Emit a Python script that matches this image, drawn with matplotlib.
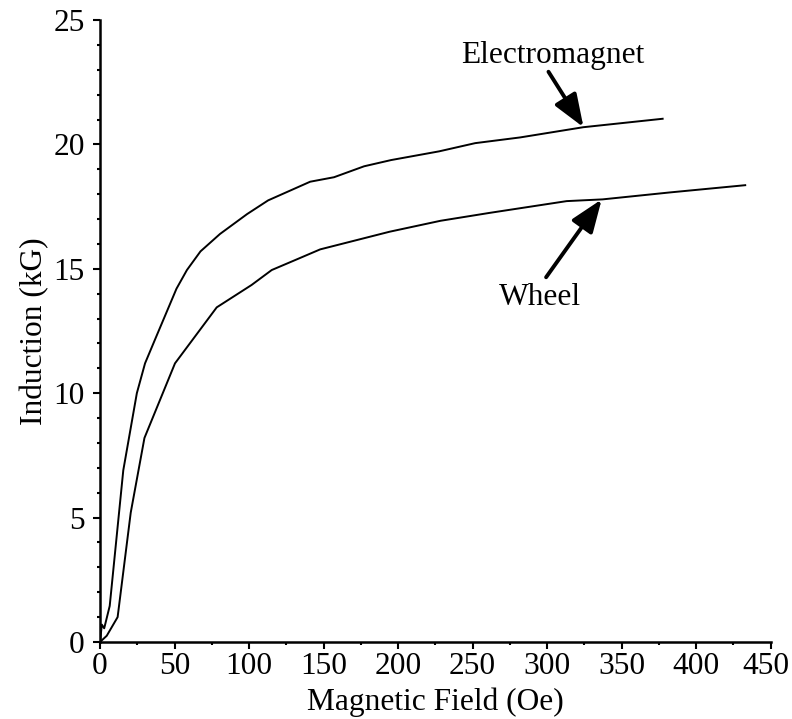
import matplotlib
matplotlib.use("Agg")
import matplotlib.pyplot as plt
import matplotlib.transforms as mtransforms
from matplotlib.ticker import MultipleLocator

# B-H curves
electromagnet_h = [0, 1.2, 2.8, 6.5, 15.6, 24.7, 30.2, 37.2, 51.3, 58.3, 67.4, 80.5, 98.7,
                   112.8, 141, 157, 177.2, 195.3, 227.5, 251.7, 281.9, 324.2, 377.5]
electromagnet_b = [0, 0.7, 0.55, 1.45, 6.9, 10.0, 11.2, 12.2, 14.2, 14.95, 15.7, 16.4,
                   17.2, 17.75, 18.5, 18.68, 19.12, 19.37, 19.72, 20.05, 20.28, 20.69, 21.03]

wheel_h = [0, 4.5, 11.8, 20.6, 29.8, 50.3, 78.3, 101.7, 115.2, 130.9, 147.7, 194.3, 228.5,
           261.7, 313.1, 337.2, 382.5, 432.9]
wheel_b = [0, 0.25, 1.0, 5.2, 8.2, 11.2, 13.45, 14.35, 14.95, 15.35, 15.78, 16.49,
           16.93, 17.25, 17.72, 17.79, 18.07, 18.36]

plt.rcParams['font.family'] = ['Liberation Serif', 'DejaVu Serif']
plt.rcParams['font.size'] = 22.6

fig = plt.figure(figsize=(7.92, 7.19), dpi=100)
ax = fig.add_axes([0.1263, 0.1071, 0.8468, 0.8651])

ax.plot(electromagnet_h, electromagnet_b, color='black', lw=1.4)
ax.plot(wheel_h, wheel_b, color='black', lw=1.4)

ax.set_xlim(0, 450)
ax.set_ylim(0, 25)
ax.xaxis.set_major_locator(MultipleLocator(50))
ax.xaxis.set_minor_locator(MultipleLocator(25))
ax.yaxis.set_major_locator(MultipleLocator(5))
ax.yaxis.set_minor_locator(MultipleLocator(1))

for side in ['top', 'right']:
    ax.spines[side].set_visible(False)
for side in ['left', 'bottom']:
    ax.spines[side].set_linewidth(1.8)

ax.tick_params(which='major', direction='out', length=5, width=1.5)
ax.tick_params(which='minor', direction='out', length=2.5, width=1.5)
ax.tick_params(axis='x', which='major', pad=2.2)
ax.tick_params(axis='y', which='major', pad=6)

ax.set_xlabel('Magnetic Field (Oe)', labelpad=5)
ax.set_ylabel('Induction (kG)', labelpad=3)

arrow = dict(arrowstyle='-|>,head_length=1.0,head_width=0.38', mutation_scale=20,
             color='black', lw=2.8, shrinkA=0, shrinkB=0)
ax.annotate('', xy=(324.4, 20.69), xytext=(300.9, 22.92), arrowprops=arrow)
ax.annotate('', xy=(336.6, 17.79), xytext=(299.3, 14.66), arrowprops=arrow)
ax.text(304, 23.27, 'Electromagnet', ha='center', va='baseline')
ax.text(295.3, 13.54, 'Wheel', ha='center', va='baseline')

# the 450 label sits a bit left of its tick in the original, keep it on the page
fig.canvas.draw()
shift = mtransforms.ScaledTranslation(-0.05, 0, fig.dpi_scale_trans)
for tick in ax.xaxis.get_major_ticks():
    if abs(tick.get_loc() - 450) < 1e-6:
        tick.label1.set_transform(tick.label1.get_transform() + shift)

fig.savefig('out.png', dpi=100)
